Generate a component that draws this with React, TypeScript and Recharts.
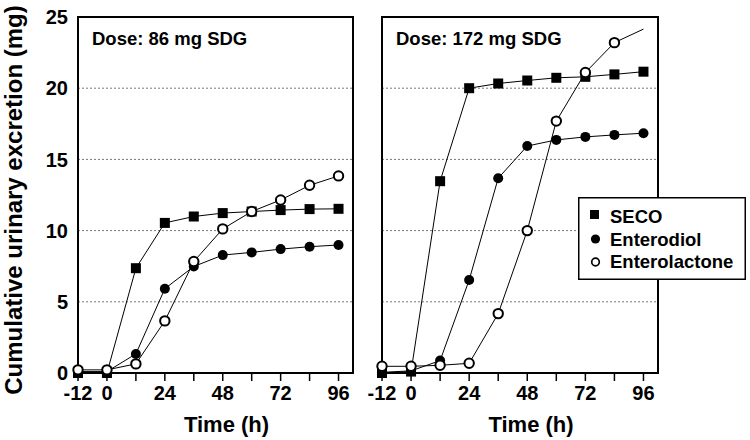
import React from "react";
import { LineChart, Line, XAxis, YAxis, CartesianGrid, ReferenceArea } from "recharts";

// sampling times (h) and axis ticks
const hours = [-12, 0, 12, 24, 36, 48, 60, 72, 84, 96];
const xTicks = [-12, 0, 12, 24, 36, 48, 60, 72, 84, 96];
const xLabelled = [-12, 0, 24, 48, 72, 96];
const yTicks = [0, 5, 10, 15, 20, 25];
const seriesNames = ["SECO", "Enterodiol", "Enterolactone"];
const doses = ["Dose: 86 mg SDG", "Dose: 172 mg SDG"];

// 86 mg SDG
const seco86 = [0, 0, 7.36, 10.54, 10.99, 11.23, 11.34, 11.44, 11.51, 11.53];
const diol86 = [0.1, 0.1, 1.34, 5.92, 7.48, 8.28, 8.47, 8.7, 8.87, 8.99];
const lact86 = [0.22, 0.22, 0.64, 3.66, 7.83, 10.12, 11.34, 12.15, 13.18, 13.84];

// 172 mg SDG
const seco172 = [0, 0.1, 13.47, 20.0, 20.33, 20.54, 20.73, 20.8, 20.97, 21.16];
const diol172 = [0.05, 0.15, 0.87, 6.53, 13.68, 15.94, 16.37, 16.58, 16.72, 16.84];
const lact172 = [0.47, 0.47, 0.54, 0.68, 4.17, 10.0, 17.69, 21.1, 23.2, 24.15];

const FONT = '"Liberation Sans", Arial, Helvetica, sans-serif';

const toRows = (seco: number[], diol: number[], lact: number[]) =>
  hours.map((h, i) => ({ h, seco: seco[i], diol: diol[i], lact: lact[i] }));

const squareDot = (p: any) => (
  <rect key={`sq-${p.index}`} x={p.cx - 5} y={p.cy - 5} width={10} height={10} fill="#000" />
);
const filledDot = (p: any) => <circle key={`fc-${p.index}`} cx={p.cx} cy={p.cy} r={5} fill="#000" />;
const openDot = (skipLast: boolean) => (p: any) =>
  skipLast && p.index === hours.length - 1 ? (
    <g key={`oc-${p.index}`} />
  ) : (
    <circle key={`oc-${p.index}`} cx={p.cx} cy={p.cy} r={4.7} fill="#fff" stroke="#000" strokeWidth={2} />
  );

const DoseLabel = (props: any) => {
  const vb = props.viewBox || { x: 0, y: 0 };
  return (
    <text x={vb.x + 14} y={vb.y + 28} fontSize={18.5} fontWeight="bold" fontFamily={FONT} fill="#000">
      {props.text}
    </text>
  );
};

const TimeLabel = (props: any) => {
  const vb = props.viewBox || { x: 0, y: 0, width: 0 };
  return (
    <text
      x={vb.x + vb.width / 2 + 11}
      y={432}
      textAnchor="middle"
      fontSize={22}
      fontWeight="bold"
      fontFamily={FONT}
      fill="#000"
    >
      Time (h)
    </text>
  );
};

const YTitle = () => (
  <text
    transform="translate(22,200) rotate(-90)"
    textAnchor="middle"
    fontSize={24}
    fontWeight="bold"
    fontFamily={FONT}
    fill="#000"
  >
    Cumulative urinary excretion (mg)
  </text>
);

function Panel(props: {
  data: any[];
  dose: string;
  showY: boolean;
  left: number;
  width: number;
  margin: any;
  skipLastLact: boolean;
}) {
  const { data, dose, showY, left, width, margin, skipLastLact } = props;
  return (
    <div style={{ position: "absolute", left, top: 0 }}>
      <LineChart width={width} height={440} data={data} margin={margin}>
        <CartesianGrid vertical={false} stroke="#777" strokeDasharray="2 2" />
        <XAxis
          dataKey="h"
          type="number"
          domain={[-12, 102]}
          ticks={xTicks}
          interval={0}
          height={67}
          axisLine={false}
          tickSize={8}
          tickMargin={5}
          tickLine={{ stroke: "#000", strokeWidth: 1.5 }}
          tickFormatter={(v: number) => (xLabelled.includes(v) ? String(v) : "")}
          tick={{ fontSize: 20, fontWeight: "bold", fill: "#000", fontFamily: FONT }}
          label={<TimeLabel />}
        />
        <YAxis
          type="number"
          domain={[0, 25]}
          ticks={yTicks}
          interval={0}
          hide={!showY}
          width={showY ? 78 : 0}
          axisLine={false}
          tickLine={false}
          tickMargin={4}
          tick={{ fontSize: 20, fontWeight: "bold", fill: "#000", fontFamily: FONT }}
          label={showY ? <YTitle /> : undefined}
        />
        <ReferenceArea
          x1={-12}
          x2={102}
          y1={0}
          y2={25}
          fill="none"
          fillOpacity={0}
          stroke="#000"
          strokeWidth={2}
          label={<DoseLabel text={dose} />}
        />
        <Line
          dataKey="seco"
          name={seriesNames[0]}
          stroke="#000"
          strokeWidth={1}
          dot={squareDot}
          isAnimationActive={false}
        />
        <Line
          dataKey="diol"
          name={seriesNames[1]}
          stroke="#000"
          strokeWidth={1}
          dot={filledDot}
          isAnimationActive={false}
        />
        <Line
          dataKey="lact"
          name={seriesNames[2]}
          stroke="#000"
          strokeWidth={1}
          dot={openDot(skipLastLact)}
          isAnimationActive={false}
        />
      </LineChart>
    </div>
  );
}

function LegendBox() {
  return (
    <div style={{ position: "absolute", left: 578, top: 197, zIndex: 5 }}>
      <svg width={168} height={83}>
        <rect x={0.75} y={0.75} width={166.5} height={81.5} fill="#fff" stroke="#000" strokeWidth={1.5} />
        <rect x={12} y={13} width={9} height={9} fill="#000" />
        <circle cx={17.5} cy={42} r={4.6} fill="#000" />
        <circle cx={17.5} cy={65} r={3.8} fill="#fff" stroke="#000" strokeWidth={1.7} />
        {seriesNames.map((n, i) => (
          <text
            key={n}
            x={32}
            y={26 + i * 22.7}
            fontSize={18.5}
            fontWeight="bold"
            fontFamily={FONT}
            fill="#000"
          >
            {n}
          </text>
        ))}
      </svg>
    </div>
  );
}

export default function App() {
  return (
    <div style={{ position: "absolute", left: 0, top: 0, width: 750, height: 440, background: "#fff" }}>
      <Panel
        data={toRows(seco86, diol86, lact86)}
        dose={doses[0]}
        showY
        left={0}
        width={360}
        margin={{ top: 17, right: 7, bottom: 0, left: 0 }}
        skipLastLact={false}
      />
      <Panel
        data={toRows(seco172, diol172, lact172)}
        dose={doses[1]}
        showY={false}
        left={330}
        width={420}
        margin={{ top: 17, right: 92, bottom: 0, left: 52 }}
        skipLastLact
      />
      <LegendBox />
    </div>
  );
}
